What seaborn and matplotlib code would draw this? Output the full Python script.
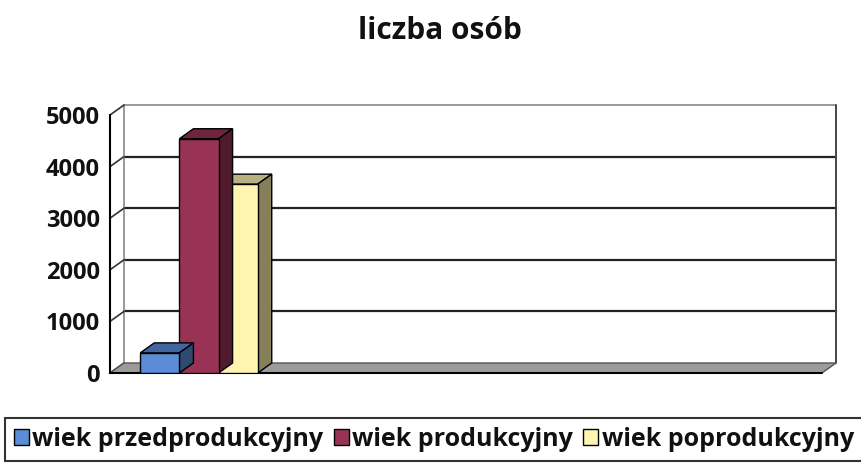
import matplotlib
matplotlib.use("Agg")
import numpy as np
import pandas as pd
import seaborn as sns
import matplotlib.pyplot as plt
from matplotlib.patches import Polygon
from matplotlib.colors import to_rgb

# chart data
title = "liczba osób"
categories = ["liczba osób"]
series = ["wiek przedprodukcyjny", "wiek produkcyjny", "wiek poprodukcyjny"]
values = [390, 4540, 3660]
colors = ["#5A8CD8", "#993355", "#FFF5B0"]
y_ticks = [0, 1000, 2000, 3000, 4000, 5000]

df = pd.DataFrame({"kategoria": categories * len(series), "seria": series, "liczba": values})

sns.set_style("white")
plt.rcParams["font.family"] = ["Open Sans", "DejaVu Sans"]
plt.rcParams["font.weight"] = "bold"
plt.rcParams["text.color"] = "#111111"
plt.rcParams["ytick.labelcolor"] = "#111111"

fig = plt.figure(figsize=(8.61, 4.63), dpi=100)
ax = fig.add_axes([110 / 861, 90 / 463, 712 / 861, 258 / 463])

sns.barplot(data=df, x="kategoria", y="liczba", hue="seria", hue_order=series,
            palette=colors, width=0.66, edgecolor="black", linewidth=1.0,
            saturation=1, ax=ax, zorder=3)

ax.set_xlim(-0.5, 3.5)
ax.set_ylim(0, 5000)
ax.set_yticks(y_ticks)
ax.set_yticklabels([str(t) for t in y_ticks], fontsize=17, fontweight="bold", color="#111111")
ax.set_xticks([0.5, 1.5, 2.5])
ax.set_xticklabels([])
ax.tick_params(axis="both", direction="out", length=5, width=1.2, color="black", pad=2.5)
ax.set_xlabel("")
ax.set_ylabel("")
for side in ["top", "right", "bottom"]:
    ax.spines[side].set_visible(False)
ax.spines["left"].set_color("black")
ax.spines["left"].set_linewidth(1.5)
ax.patch.set_alpha(0)

# depth of the 3D effect, in pixels converted to data units
inv = ax.transData.inverted()
p0 = inv.transform((0, 0))
p1 = inv.transform((14, 10))
dx, dy = p1[0] - p0[0], p1[1] - p0[1]
x0, x1 = ax.get_xlim()

# back wall gridlines and border
for t in y_ticks[1:-1]:
    ax.plot([x0 + dx, x1 + dx], [t + dy, t + dy], color="#222222", lw=1.6, zorder=0.5, clip_on=False)
ax.plot([x0 + dx, x1 + dx], [y_ticks[-1] + dy] * 2, color="#888888", lw=1.2, zorder=0.5, clip_on=False)
ax.plot([x0 + dx, x0 + dx], [dy, y_ticks[-1] + dy], color="#888888", lw=1.2, zorder=0.5, clip_on=False)
ax.plot([x1 + dx, x1 + dx], [dy, y_ticks[-1] + dy], color="#444444", lw=1.4, zorder=0.5, clip_on=False)
# side wall lines
for t in y_ticks:
    ax.plot([x0, x0 + dx], [t, t + dy], color="#333333", lw=1.2, zorder=0.6, clip_on=False)

# floor
floor = Polygon([(x0, 0), (x1, 0), (x1 + dx, dy), (x0 + dx, dy)], closed=True,
                facecolor="#9C9C9C", edgecolor="#555555", lw=1.0, zorder=1, clip_on=False)
ax.add_patch(floor)
ax.plot([x0, x1], [0, 0], color="black", lw=1.5, zorder=1.5, clip_on=False)


def shade(c, f):
    return tuple(np.array(to_rgb(c)) * f)


# top and side faces of each bar
for i, bar in enumerate(ax.patches[:len(series)]):
    bx, bw, bh = bar.get_x(), bar.get_width(), bar.get_height()
    fc = bar.get_facecolor()
    top = Polygon([(bx, bh), (bx + bw, bh), (bx + bw + dx, bh + dy), (bx + dx, bh + dy)],
                  closed=True, facecolor=shade(fc[:3], 0.72), edgecolor="black", lw=1.0,
                  zorder=3 - i * 0.01, clip_on=False)
    side = Polygon([(bx + bw, 0), (bx + bw + dx, dy), (bx + bw + dx, bh + dy), (bx + bw, bh)],
                   closed=True, facecolor=shade(fc[:3], 0.52), edgecolor="black", lw=1.0,
                   zorder=3 - i * 0.01, clip_on=False)
    ax.add_patch(top)
    ax.add_patch(side)
    bar.set_zorder(3.005 - i * 0.01)

fig.suptitle(title, x=440 / 861, y=1 - 31 / 463, va="center", fontsize=21.5, fontweight="bold")

handles, labels = ax.get_legend_handles_labels()
if ax.get_legend() is not None:
    ax.get_legend().remove()
leg = fig.legend(handles, labels, loc="upper left", bbox_to_anchor=(5 / 861, 1 - 418 / 463),
                 borderaxespad=0, ncol=3, frameon=True, fancybox=False,
                 handlelength=0.6, handleheight=0.6, handletextpad=0.15, columnspacing=0.4,
                 borderpad=0.35, prop={"size": 18, "weight": "bold"})
leg.get_frame().set_edgecolor("black")
leg.get_frame().set_linewidth(1.5)

fig.savefig("out.png", dpi=100)
